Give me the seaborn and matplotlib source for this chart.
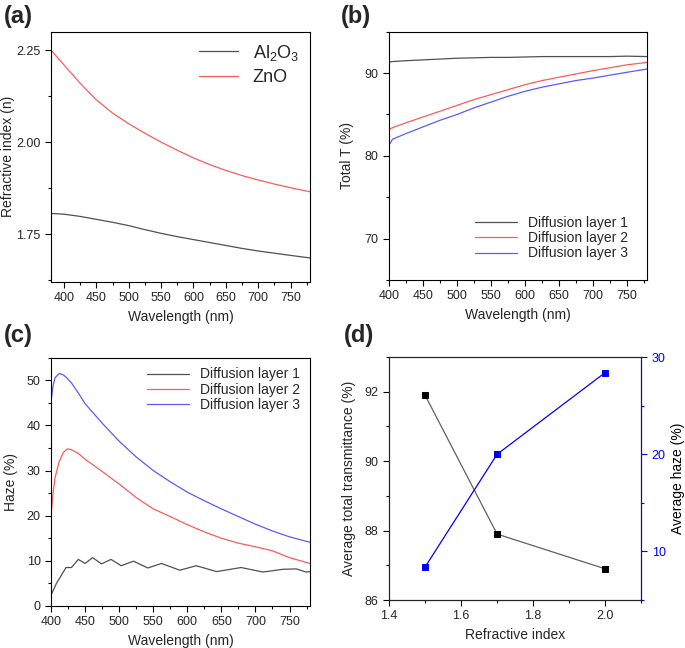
import matplotlib
matplotlib.use('Agg')
import matplotlib.pyplot as plt
from matplotlib.ticker import MultipleLocator, FormatStrFormatter
import numpy as np
import pandas as pd
import seaborn as sns

sns.set_style('ticks')
plt.rcParams['font.family'] = ['Liberation Sans', 'DejaVu Sans']
plt.rcParams['mathtext.fontset'] = 'custom'
plt.rcParams['mathtext.rm'] = 'Liberation Sans'

# (a) refractive index vs wavelength
wl_a = [380, 400, 425, 450, 475, 500, 525, 550, 575, 600, 625, 650, 675,
        700, 725, 750, 780]
n_zno = [2.250, 2.210, 2.160, 2.115, 2.079, 2.050, 2.024, 2.000, 1.978,
         1.957, 1.939, 1.923, 1.909, 1.897, 1.886, 1.876, 1.865]
n_al2o3 = [1.806, 1.804, 1.798, 1.790, 1.782, 1.773, 1.762, 1.752, 1.743,
           1.735, 1.727, 1.719, 1.711, 1.704, 1.698, 1.692, 1.685]

# (b) total transmittance
wl_b = [400, 405, 425, 450, 475, 500, 525, 550, 575, 600, 625, 650, 675,
        700, 725, 750, 780]
tt_1 = [91.3, 91.4, 91.5, 91.6, 91.7, 91.8, 91.85, 91.9, 91.9, 91.95,
        92.0, 92.0, 92.0, 92.0, 92.0, 92.05, 92.0]
tt_2 = [83.2, 83.4, 84.0, 84.7, 85.4, 86.1, 86.8, 87.4, 88.0, 88.6, 89.1,
        89.5, 89.9, 90.3, 90.65, 91.0, 91.3]
tt_3 = [81.3, 82.0, 82.7, 83.5, 84.3, 85.0, 85.8, 86.5, 87.2, 87.8, 88.3,
        88.7, 89.1, 89.4, 89.75, 90.1, 90.5]

# (c) haze
wl_c1 = [400, 408, 422, 430, 440, 450, 461, 474, 488, 503, 521, 542, 562,
         589, 613, 643, 679, 711, 740, 760, 774, 780]
hz_1 = [2.4, 5.0, 8.5, 8.5, 10.3, 9.4, 10.7, 9.3, 10.3, 8.9, 9.9, 8.4, 9.4,
        7.9, 8.9, 7.6, 8.5, 7.5, 8.1, 8.2, 7.5, 7.6]
wl_c = [400, 403, 406, 412, 418, 424, 430, 440, 450, 475, 500, 525, 550,
        575, 600, 625, 650, 675, 700, 725, 750, 780]
hz_2 = [20.0, 25.0, 28.5, 32.0, 34.0, 34.8, 34.6, 33.8, 32.5, 29.8, 27.0,
        24.0, 21.5, 19.8, 18.0, 16.4, 15.0, 13.9, 13.1, 12.2, 10.7, 9.4]
hz_3 = [45.4, 48.8, 50.6, 51.5, 51.2, 50.4, 49.4, 47.2, 44.8, 40.5, 36.5,
        33.0, 30.0, 27.5, 25.2, 23.3, 21.5, 19.8, 18.1, 16.6, 15.3, 14.1]

# (d) averages vs refractive index
ri = [1.5, 1.7, 2.0]
avg_tt = [91.9, 87.9, 86.9]
avg_haze = [8.4, 20.0, 28.4]

c_black = '#505050'
c_red = '#ff5a5a'
c_blue = '#5a5aff'
labels = ['Diffusion layer 1', 'Diffusion layer 2', 'Diffusion layer 3']

fig = plt.figure(figsize=(6.85, 6.48), dpi=100)
ax_a = fig.add_axes([0.0745, 0.565, 0.378, 0.386])
ax_b = fig.add_axes([0.568, 0.568, 0.377, 0.383])
ax_c = fig.add_axes([0.0745, 0.065, 0.378, 0.383])
ax_d = fig.add_axes([0.568, 0.074, 0.368, 0.375])


def style_ax(ax):
    for s in ax.spines.values():
        s.set_visible(True)
        s.set_linewidth(0.8)
        s.set_color('black')
    ax.tick_params(which='both', direction='out', top=False, right=False,
                   labelsize=9, color='black')
    ax.tick_params(which='major', length=4, width=0.8)
    ax.tick_params(which='minor', length=2, width=0.8)


# (a)
sns.lineplot(x=wl_a, y=n_al2o3, ax=ax_a, color=c_black, lw=0.9,
             label=r'Al$_2$O$_3$')
sns.lineplot(x=wl_a, y=n_zno, ax=ax_a, color=c_red, lw=0.9, label='ZnO')
ax_a.set_xlim(380, 780)
ax_a.set_ylim(1.62, 2.30)
ax_a.xaxis.set_major_locator(MultipleLocator(50))
ax_a.xaxis.set_minor_locator(MultipleLocator(25))
ax_a.yaxis.set_major_locator(MultipleLocator(0.25))
ax_a.yaxis.set_minor_locator(MultipleLocator(0.125))
ax_a.yaxis.set_major_formatter(FormatStrFormatter('%.2f'))
ax_a.set_xlabel('Wavelength (nm)', fontsize=10)
ax_a.set_ylabel('Refractive index (n)', fontsize=10)
ax_a.yaxis.set_label_coords(-0.14, 0.5)
ax_a.legend(loc='upper right', frameon=False, fontsize=13, handlelength=2.2,
            borderaxespad=0.2, labelspacing=0.35)
style_ax(ax_a)

# (b)
for y, c, lab in zip([tt_1, tt_2, tt_3], [c_black, c_red, c_blue], labels):
    sns.lineplot(x=wl_b, y=y, ax=ax_b, color=c, lw=0.9, label=lab)
ax_b.set_xlim(400, 780)
ax_b.set_ylim(65, 95)
ax_b.xaxis.set_major_locator(MultipleLocator(50))
ax_b.xaxis.set_minor_locator(MultipleLocator(25))
ax_b.yaxis.set_major_locator(MultipleLocator(10))
ax_b.yaxis.set_minor_locator(MultipleLocator(5))
ax_b.set_xlabel('Wavelength (nm)', fontsize=10)
ax_b.set_ylabel('Total T (%)', fontsize=10)
ax_b.yaxis.set_label_coords(-0.136, 0.5)
ax_b.legend(loc='lower right', frameon=False, fontsize=10, handlelength=3.0,
            borderaxespad=1.0, labelspacing=0.1)
style_ax(ax_b)

# (c)
sns.lineplot(x=wl_c1, y=hz_1, ax=ax_c, color=c_black, lw=0.9, label=labels[0])
sns.lineplot(x=wl_c, y=hz_2, ax=ax_c, color=c_red, lw=0.9, label=labels[1])
sns.lineplot(x=wl_c, y=hz_3, ax=ax_c, color=c_blue, lw=0.9, label=labels[2])
ax_c.set_xlim(400, 780)
ax_c.set_ylim(0, 55)
ax_c.xaxis.set_major_locator(MultipleLocator(50))
ax_c.xaxis.set_minor_locator(MultipleLocator(25))
ax_c.yaxis.set_major_locator(MultipleLocator(10))
ax_c.yaxis.set_minor_locator(MultipleLocator(5))
ax_c.set_xlabel('Wavelength (nm)', fontsize=10)
ax_c.set_ylabel('Haze (%)', fontsize=10)
ax_c.yaxis.set_label_coords(-0.127, 0.5)
ax_c.legend(loc='upper right', frameon=False, fontsize=10, handlelength=3.0,
            borderaxespad=0.3, labelspacing=0.1)
style_ax(ax_c)

# (d)
sns.lineplot(x=ri, y=avg_tt, ax=ax_d, color='#606060', lw=0.9, marker='s',
             markersize=5, markerfacecolor='black', markeredgecolor='black')
ax_d.set_xlim(1.4, 2.1)
ax_d.set_ylim(86, 93)
ax_d.xaxis.set_major_locator(MultipleLocator(0.2))
ax_d.xaxis.set_minor_locator(MultipleLocator(0.1))
ax_d.yaxis.set_major_locator(MultipleLocator(2))
ax_d.yaxis.set_minor_locator(MultipleLocator(1))
ax_d.xaxis.set_major_formatter(FormatStrFormatter('%.1f'))
ax_d.set_xlabel('Refractive index', fontsize=10)
ax_d.set_ylabel('Average total transmittance (%)', fontsize=10)
ax_d.yaxis.set_label_coords(-0.131, 0.5)
style_ax(ax_d)

ax_d2 = ax_d.twinx()
sns.lineplot(x=ri, y=avg_haze, ax=ax_d2, color='#0000ff', lw=0.9, marker='s',
             markersize=5, markerfacecolor='#0000ff', markeredgecolor='#0000ff')
ax_d2.set_ylim(5, 30)
ax_d2.yaxis.set_major_locator(MultipleLocator(10))
ax_d2.yaxis.set_minor_locator(MultipleLocator(5))
ax_d2.set_ylabel('Average haze (%)', fontsize=10)
ax_d2.yaxis.set_label_coords(1.119, 0.5)
ax_d2.tick_params(which='both', direction='out', right=True, left=False,
                  labelsize=9, colors='#0000ff')
ax_d2.tick_params(which='major', length=4, width=0.8)
ax_d2.tick_params(which='minor', length=2, width=0.8)
ax_d2.yaxis.label.set_color('black')
ax_d2.spines['right'].set_color('#0000ff')
ax_d2.spines['right'].set_linewidth(0.8)

# panel labels
for x, y, t in [(0.005, 0.975, '(a)'), (0.497, 0.975, '(b)'),
                (0.005, 0.482, '(c)'), (0.502, 0.482, '(d)')]:
    fig.text(x, y, t, fontsize=17, fontweight='bold', va='center', ha='left')

fig.savefig('out.png', dpi=100)
